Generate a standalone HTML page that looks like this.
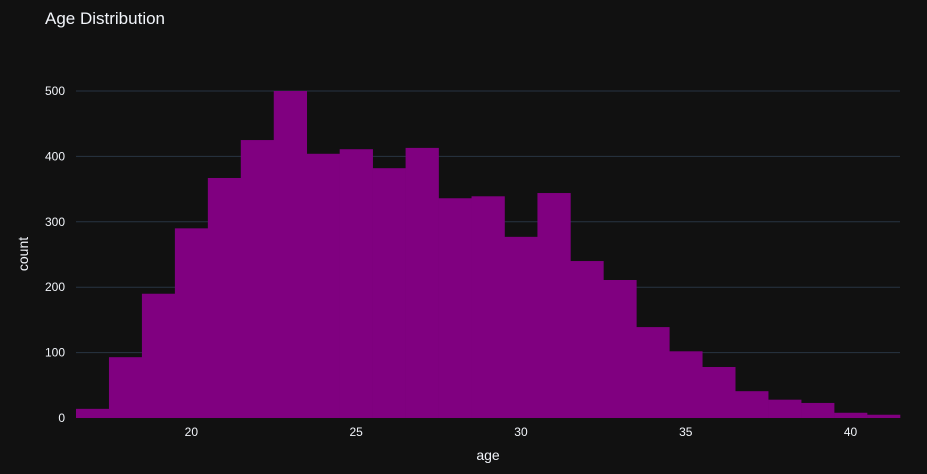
<!DOCTYPE html>
<html><head><meta charset="utf-8"><style>
html,body{margin:0;padding:0;background:#111111;}
svg{display:block;font-family:"Liberation Sans",sans-serif;}
</style></head><body>
<svg id="chart" width="927" height="474">
<rect width="927" height="474" fill="#111111"/>
<text x="45" y="24" fill="#f2f5fa" font-size="17">Age Distribution</text>
<g id="grid"></g><g id="bars"></g><g id="axes"></g>
<text x="488" y="460" fill="#f2f5fa" font-size="14" text-anchor="middle">age</text>
<text x="28" y="254" fill="#f2f5fa" font-size="14" text-anchor="middle" transform="rotate(-90 28 254)">count</text>
</svg>
<script>
const binStarts=[16.5,17.5,18.5,19.5,20.5,21.5,22.5,23.5,24.5,25.5,26.5,27.5,28.5,29.5,30.5,31.5,32.5,33.5,34.5,35.5,36.5,37.5,38.5,39.5,40.5];
const counts=[14,93,190,290,367,425,500,404,411,382,413,336,339,277,344,240,211,139,102,78,41,28,23,8,5];
const xTicks=[20,25,30,35,40];
const yTicks=[0,100,200,300,400,500];
const binWidth=1;
const X0=76,X1=900,Y0=418,Y1=91;
const xMin=16.5,xMax=41.5,yMax=500;
const sx=v=>X0+(v-xMin)/(xMax-xMin)*(X1-X0);
const sy=v=>Y0-v/yMax*(Y0-Y1);
const NS="http://www.w3.org/2000/svg";
const grid=document.getElementById('grid'),bars=document.getElementById('bars'),axes=document.getElementById('axes');
yTicks.forEach(t=>{
  if(t>0){const l=document.createElementNS(NS,'line');
  l.setAttribute('x1',X0);l.setAttribute('x2',X1);l.setAttribute('y1',sy(t));l.setAttribute('y2',sy(t));
  l.setAttribute('stroke','#283442');l.setAttribute('stroke-width','1');
  
  
  grid.appendChild(l);}
  const tx=document.createElementNS(NS,'text');
  tx.setAttribute('x',X0-11);tx.setAttribute('y',sy(t)+4);tx.setAttribute('fill','#f2f5fa');
  tx.setAttribute('font-size','12');tx.setAttribute('text-anchor','end');tx.textContent=t;
  
  
  axes.appendChild(tx);
});
xTicks.forEach(t=>{
  const tx=document.createElementNS(NS,'text');
  tx.setAttribute('x',sx(t));tx.setAttribute('y',Y0+18);tx.setAttribute('fill','#f2f5fa');
  tx.setAttribute('font-size','12');tx.setAttribute('text-anchor','middle');tx.textContent=t;
  
  
  axes.appendChild(tx);
});
binStarts.forEach((b,i)=>{
  const r=document.createElementNS(NS,'rect');
  const x=sx(b),w=sx(b+binWidth)-x,y=sy(counts[i]);
  r.setAttribute('x',x);r.setAttribute('width',w+0.3);r.setAttribute('y',y);r.setAttribute('height',Y0-y);
  r.setAttribute('fill','#800080');
  
  
  bars.appendChild(r);
});
</script>
</body></html>
